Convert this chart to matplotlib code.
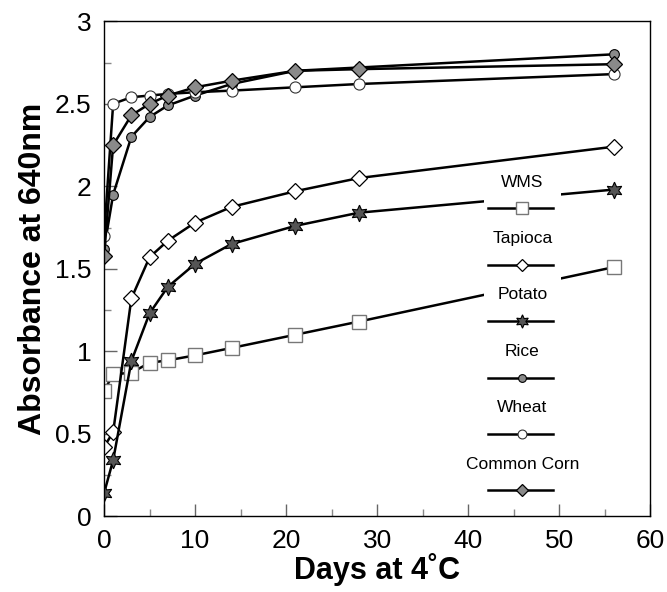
import matplotlib
matplotlib.use("Agg")
import matplotlib.pyplot as plt
from matplotlib.patches import Rectangle
from matplotlib.ticker import MultipleLocator

plt.rcParams["font.family"] = ["Liberation Sans", "DejaVu Sans"]

# Storage days and absorbance readings
days = [0, 1, 3, 5, 7, 10, 14, 21, 28, 56]
wms = [0.76, 0.86, 0.87, 0.93, 0.945, 0.975, 1.02, 1.10, 1.18, 1.51]
tapioca = [0.42, 0.51, 1.32, 1.57, 1.67, 1.78, 1.875, 1.97, 2.05, 2.24]
potato = [0.14, 0.34, 0.94, 1.23, 1.39, 1.53, 1.65, 1.76, 1.84, 1.98]
rice = [1.62, 1.95, 2.30, 2.42, 2.49, 2.55, 2.62, 2.70, 2.72, 2.80]
wheat = [1.70, 2.50, 2.54, 2.55, 2.56, 2.57, 2.58, 2.60, 2.62, 2.68]
corn = [1.58, 2.25, 2.43, 2.50, 2.55, 2.60, 2.64, 2.70, 2.71, 2.74]

series = [
    ("WMS", wms, dict(marker="s", ms=10, mfc="white", mec="#777777", mew=1.0)),
    ("Tapioca", tapioca, dict(marker="D", ms=8, mfc="white", mec="black", mew=0.9)),
    ("Potato", potato, dict(marker=(6, 1, 0), ms=12, mfc="#555555", mec="black", mew=0.8)),
    ("Rice", rice, dict(marker="o", ms=7, mfc="#8a8a8a", mec="black", mew=0.8)),
    ("Wheat", wheat, dict(marker="o", ms=8, mfc="white", mec="#333333", mew=0.8)),
    ("Common Corn", corn, dict(marker="D", ms=8, mfc="#8a8a8a", mec="black", mew=0.9)),
]

fig = plt.figure(figsize=(6.67, 5.92), dpi=100)
ax = fig.add_axes([0.156, 0.128, 0.819, 0.836])

for name, vals, style in series:
    ax.plot(days, vals, color="black", lw=1.8, zorder=2, **style)

ax.set_xlim(0, 60)
ax.set_ylim(0, 3)
ax.xaxis.set_major_locator(MultipleLocator(10))
ax.xaxis.set_minor_locator(MultipleLocator(5))
ax.yaxis.set_major_locator(MultipleLocator(0.5))
ax.yaxis.set_minor_locator(MultipleLocator(0.25))
ax.set_yticks([0, 0.5, 1, 1.5, 2, 2.5, 3])
ax.set_yticklabels(["0", "0.5", "1", "1.5", "2", "2.5", "3"])
ax.tick_params(which="major", direction="in", length=9, width=1, color="#666666",
               labelsize=19, pad=9)
ax.tick_params(which="minor", direction="in", length=5, width=1, color="#888888")
for s in ax.spines.values():
    s.set_linewidth(1.0)

ax.set_xlabel("Days at 4\u02daC", fontsize=22, fontweight="bold", labelpad=0)
ax.set_ylabel("Absorbance at 640nm", fontsize=23, fontweight="bold", labelpad=5)

# Legend: label centred above a short line sample, on a white panel
ax.add_patch(Rectangle((0.696, 0.03), 0.141, 0.675, transform=ax.transAxes,
                       facecolor="white", edgecolor="none", zorder=3))
x0, x1, xc = 0.703, 0.822, 0.766
for i, (name, vals, style) in enumerate(series):
    ty = 0.675 - i * 0.114
    sy = ty - 0.053
    ax.text(xc, ty, name, transform=ax.transAxes, ha="center", va="center",
            fontsize=12.5, zorder=4)
    ax.plot([x0, x1], [sy, sy], transform=ax.transAxes, color="black", lw=1.8,
            zorder=4, clip_on=False)
    ax.plot([xc], [sy], transform=ax.transAxes, color="black", zorder=5,
            clip_on=False, **{k: (v * 0.8 if k == "ms" else v) for k, v in style.items()})

fig.savefig("out.png", dpi=100)
